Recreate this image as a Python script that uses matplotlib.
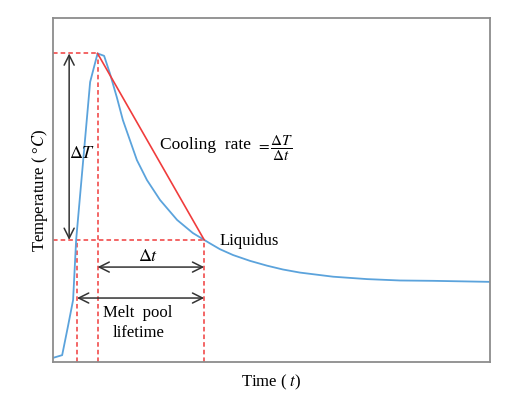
import matplotlib
matplotlib.use("Agg")
import matplotlib.pyplot as plt

plt.rcParams['font.family'] = ['Liberation Serif', 'DejaVu Serif']
plt.rcParams['mathtext.fontset'] = 'stix'

# temperature curve (arbitrary units, axes span 0..100)
time = [0.0, 2.1, 3.4, 4.6, 5.3, 8.5, 10.2, 11.7, 13.0, 14.6, 16.0, 17.6, 19.2,
        21.5, 24.5, 28.4, 32.0, 34.6, 35.9, 38.2, 41.2, 45.1, 49.0, 52.6, 56.5,
        64.1, 71.9, 79.4, 87.0, 100.0]
temp = [1.2, 2.0, 10.2, 18.0, 35.5, 81.4, 89.7, 89.0, 84.0, 77.0, 70.3, 64.5, 58.7,
        52.9, 47.1, 41.3, 37.5, 35.5, 34.5, 32.8, 31.1, 29.4, 28.0, 26.9, 26.0,
        24.8, 24.1, 23.7, 23.6, 23.3]

t_melt, t_peak, t_liq = 5.5, 10.2, 34.6
T_peak, T_liq = 89.7, 35.5

blue = '#5ba3dc'
red = '#f03c3c'

fig = plt.figure(figsize=(5.22, 3.95), dpi=100)
ax = fig.add_axes([0.1015, 0.0835, 0.8372, 0.8709])
ax.set_xlim(0, 100)
ax.set_ylim(0, 100)
ax.set_xticks([])
ax.set_yticks([])
for sp in ax.spines.values():
    sp.set_color('#8c8c8c')
    sp.set_linewidth(1.3)

# dashed guide lines
dkw = dict(color=red, ls=(0, (3, 2)), lw=1.1)
ax.plot([0, t_peak], [T_peak, T_peak], **dkw)
ax.plot([0, t_liq], [T_liq, T_liq], **dkw)
ax.plot([t_melt, t_melt], [0, T_liq], **dkw)
ax.plot([t_peak, t_peak], [0, T_peak], **dkw)
ax.plot([t_liq, t_liq], [0, T_liq], **dkw)

ax.plot(time, temp, color=blue, lw=1.3)
ax.plot([t_peak, t_liq], [T_peak, T_liq], color=red, lw=1.2)

akw = dict(arrowstyle='<->', color='#333333', lw=1.1, mutation_scale=18,
           shrinkA=0, shrinkB=0)
ax.annotate('', xy=(3.7, T_peak), xytext=(3.7, T_liq), arrowprops=akw)
ax.annotate('', xy=(t_peak, 27.6), xytext=(t_liq, 27.6), arrowprops=akw)
ax.annotate('', xy=(t_melt, 18.6), xytext=(t_liq, 18.6), arrowprops=akw)

fs = 12
ax.text(6.6, 60.5, r'$\Delta T$', fontsize=fs + 1, ha='center', va='center')
ax.text(21.7, 30.6, r'$\Delta t$', fontsize=fs + 1, ha='center', va='center')
ax.text(19.3, 14.2, 'Melt  pool', fontsize=fs, ha='center', va='center')
ax.text(19.5, 8.4, 'lifetime', fontsize=fs, ha='center', va='center')
ax.text(24.5, 63.1, 'Cooling  rate', fontsize=fs + 0.5, ha='left', va='center')
ax.text(46.4, 62.0, r'$=\dfrac{\Delta T}{\Delta t}$', fontsize=fs - 1,
        ha='left', va='center')
ax.text(38.2, 35.2, 'Liquidus', fontsize=fs, ha='left', va='center')

ax.set_xlabel(r'Time ( $t$)', fontsize=fs, labelpad=8)
ax.set_ylabel(r'Temperature ( °$C$)', fontsize=fs, labelpad=2)

fig.savefig('out.png', dpi=100)
